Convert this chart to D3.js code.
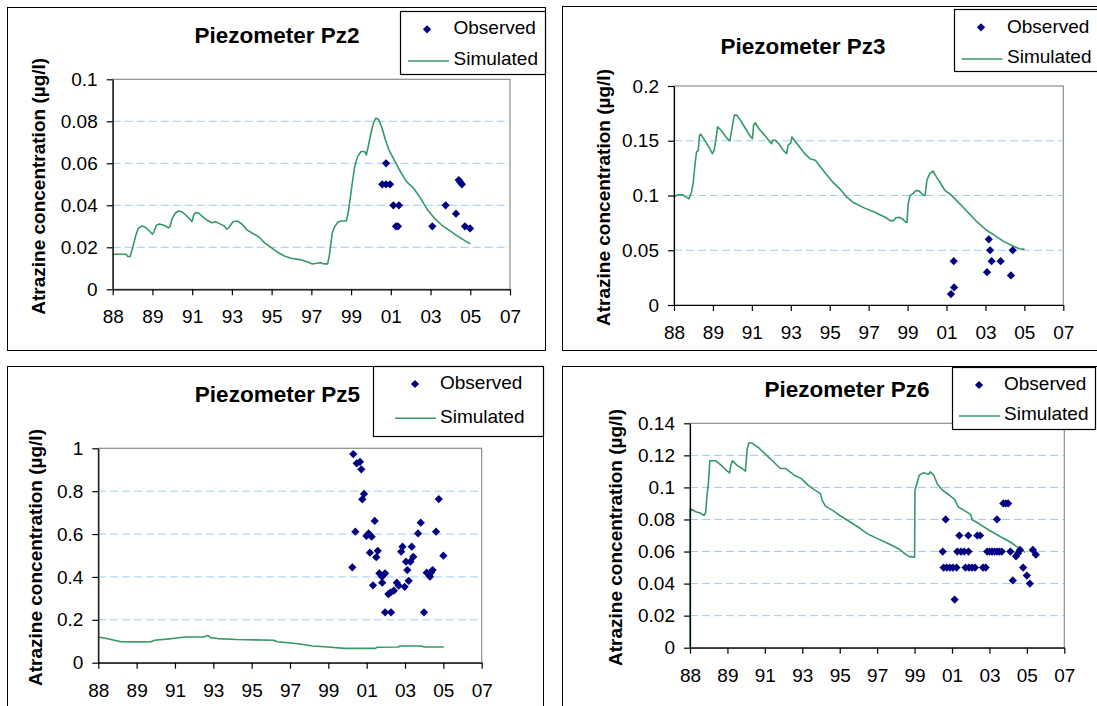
<!DOCTYPE html>
<html>
<head>
<meta charset="utf-8">
<script src="https://cdn.jsdelivr.net/npm/d3@7"></script>
<style>
  html, body { margin: 0; padding: 0; background: #fff; }
  svg { display: block; }
</style>
</head>
<body>
<svg id="chart" width="1097" height="706"></svg>
<script>
// ---- Time axis (decimal years; Excel-style 730-day major unit) ----
const xTickYears = [1988, 1990, 1992, 1994, 1996, 1998, 2000, 2002, 2004, 2006, 2008];
const xTickLabels = ["88", "89", "91", "93", "95", "97", "99", "01", "03", "05", "07"];

// ---- Piezometer Pz2 ----
const pz2YTicks = [0, 0.02, 0.04, 0.06, 0.08, 0.1];
const pz2YLabels = ["0", "0.02", "0.04", "0.06", "0.08", "0.1"];
const pz2Simulated = [
  [1988.0, 0.0167], [1988.67, 0.0167], [1988.76, 0.0156], [1988.88, 0.0156], [1989.02, 0.0203],
  [1989.17, 0.0259], [1989.29, 0.029], [1989.47, 0.0302], [1989.64, 0.0295], [1989.82, 0.028],
  [1990.0, 0.0262], [1990.08, 0.0275], [1990.2, 0.0305], [1990.35, 0.0311], [1990.52, 0.0306],
  [1990.65, 0.0302], [1990.79, 0.0292], [1990.88, 0.0298], [1991.0, 0.0338], [1991.14, 0.0362],
  [1991.32, 0.0373], [1991.5, 0.0368], [1991.67, 0.0354], [1991.85, 0.0338], [1991.99, 0.0322],
  [1992.08, 0.0354], [1992.17, 0.0365], [1992.34, 0.0362], [1992.52, 0.0346], [1992.73, 0.033],
  [1993.0, 0.0317], [1993.17, 0.0322], [1993.35, 0.0314], [1993.61, 0.0302], [1993.75, 0.0286],
  [1993.88, 0.0298], [1994.05, 0.0322], [1994.28, 0.0325], [1994.5, 0.0311], [1994.76, 0.0283],
  [1995.03, 0.0267], [1995.38, 0.0248], [1995.64, 0.0222], [1995.91, 0.0203], [1996.26, 0.0179],
  [1996.61, 0.016], [1996.97, 0.0148], [1997.5, 0.014], [1997.85, 0.0129], [1998.03, 0.0121],
  [1998.29, 0.0124], [1998.47, 0.0127], [1998.64, 0.0121], [1998.82, 0.0121], [1998.91, 0.0163],
  [1999.05, 0.0267], [1999.17, 0.0298], [1999.35, 0.0322], [1999.53, 0.0325], [1999.76, 0.0325],
  [1999.85, 0.0362], [1999.97, 0.0441], [2000.06, 0.0505], [2000.18, 0.0584], [2000.33, 0.0632],
  [2000.5, 0.0656], [2000.68, 0.0656], [2000.77, 0.064], [2000.86, 0.0679], [2001.0, 0.0743],
  [2001.12, 0.079], [2001.24, 0.0814], [2001.38, 0.081], [2001.56, 0.0767], [2001.73, 0.0711],
  [2001.91, 0.0663], [2002.17, 0.0616], [2002.44, 0.0568], [2002.79, 0.0513], [2003.15, 0.0481],
  [2003.5, 0.0433], [2003.85, 0.0378], [2004.2, 0.0338], [2004.56, 0.0306], [2004.91, 0.0283],
  [2005.27, 0.0259], [2005.62, 0.0238], [2006.0, 0.0216]
];
const pz2Observed = [
  [2001.76, 0.06], [2001.57, 0.05], [2001.76, 0.05], [2001.96, 0.05], [2002.13, 0.04],
  [2002.41, 0.04], [2002.26, 0.03], [2002.36, 0.03], [2004.09, 0.03], [2004.76, 0.04],
  [2005.28, 0.036], [2005.42, 0.052], [2005.5, 0.051], [2005.58, 0.05], [2005.73, 0.03],
  [2005.99, 0.029]
];

// ---- Piezometer Pz3 ----
const pz3YTicks = [0, 0.05, 0.1, 0.15, 0.2];
const pz3YLabels = ["0", "0.05", "0.1", "0.15", "0.2"];
const pz3Simulated = [
  [1988.0, 0.0985], [1988.18, 0.1006], [1988.45, 0.1006], [1988.63, 0.0985], [1988.77, 0.097],
  [1988.9, 0.103], [1988.99, 0.1122], [1989.08, 0.129], [1989.16, 0.1398], [1989.25, 0.1413],
  [1989.31, 0.155], [1989.38, 0.156], [1989.52, 0.152], [1989.79, 0.1443], [1989.97, 0.1382],
  [1990.06, 0.1413], [1990.15, 0.1505], [1990.24, 0.1627], [1990.42, 0.1596], [1990.69, 0.1529],
  [1990.87, 0.1498], [1990.99, 0.1627], [1991.1, 0.1734], [1991.23, 0.1734], [1991.41, 0.1688],
  [1991.67, 0.1612], [1991.94, 0.1535], [1992.03, 0.152], [1992.09, 0.1642], [1992.17, 0.1664],
  [1992.35, 0.1612], [1992.66, 0.155], [1992.93, 0.1489], [1993.02, 0.1474], [1993.07, 0.1505],
  [1993.2, 0.1505], [1993.38, 0.1474], [1993.61, 0.1413], [1993.79, 0.1382], [1993.86, 0.1459],
  [1994.0, 0.148], [1994.06, 0.1535], [1994.18, 0.1505], [1994.45, 0.1443], [1994.72, 0.1382],
  [1994.99, 0.1336], [1995.26, 0.1321], [1995.53, 0.126], [1995.8, 0.1199], [1996.16, 0.1122],
  [1996.52, 0.1061], [1996.88, 0.0985], [1997.24, 0.0933], [1997.77, 0.0887], [1998.31, 0.0847],
  [1998.85, 0.0801], [1999.11, 0.0771], [1999.29, 0.0771], [1999.38, 0.0795], [1999.56, 0.0801],
  [1999.74, 0.0786], [1999.92, 0.0755], [1999.97, 0.0755], [2000.03, 0.0924], [2000.13, 0.1],
  [2000.27, 0.1015], [2000.42, 0.1046], [2000.6, 0.104], [2000.78, 0.1006], [2000.9, 0.1],
  [2000.99, 0.1138], [2001.13, 0.1199], [2001.31, 0.1223], [2001.49, 0.1168], [2001.71, 0.1107],
  [2001.92, 0.1046], [2002.21, 0.1009], [2002.6, 0.0939], [2003.05, 0.0856], [2003.5, 0.0771],
  [2004.04, 0.0685], [2004.49, 0.0633], [2004.93, 0.0581], [2005.38, 0.0541], [2005.74, 0.0514],
  [2006.01, 0.0508]
];
const pz3Observed = [
  [2002.37, 0.04], [2002.39, 0.016], [2002.23, 0.01], [2004.17, 0.06], [2004.24, 0.05],
  [2004.08, 0.03], [2004.32, 0.04], [2004.78, 0.04], [2005.31, 0.027], [2005.4, 0.05]
];

// ---- Piezometer Pz5 ----
const pz5YTicks = [0, 0.2, 0.4, 0.6, 0.8, 1];
const pz5YLabels = ["0", "0.2", "0.4", "0.6", "0.8", "1"];
const pz5Simulated = [
  [1988.0, 0.12], [1988.37, 0.114], [1989.19, 0.098], [1990.01, 0.097], [1990.74, 0.098],
  [1990.93, 0.105], [1991.84, 0.1125], [1992.57, 0.12], [1993.49, 0.12], [1993.71, 0.127],
  [1993.86, 0.117], [1994.22, 0.1125], [1995.23, 0.108], [1997.15, 0.105], [1997.33, 0.098],
  [1998.06, 0.092], [1998.61, 0.086], [1999.16, 0.078], [1999.99, 0.073], [2000.81, 0.067],
  [2002.46, 0.067], [2002.55, 0.072], [2003.65, 0.073], [2003.74, 0.078], [2004.83, 0.078],
  [2005.02, 0.073], [2006.02, 0.073]
];
const pz5Observed = [
  [2001.30, 0.973], [2001.48, 0.93], [2001.65, 0.937], [2001.72, 0.902], [2001.86, 0.787],
  [2001.77, 0.762], [2002.42, 0.661], [2001.41, 0.611], [2002.10, 0.603], [2001.99, 0.591],
  [2002.26, 0.588], [2002.17, 0.513], [2002.58, 0.522], [2002.50, 0.492], [2001.25, 0.445],
  [2002.66, 0.417], [2002.96, 0.417], [2002.80, 0.401], [2002.33, 0.361], [2002.81, 0.373],
  [2003.13, 0.32], [2003.25, 0.328], [2003.42, 0.336], [2002.96, 0.235], [2003.27, 0.235],
  [2003.57, 0.373], [2003.67, 0.359], [2003.98, 0.354], [2004.19, 0.382], [2004.12, 0.432],
  [2004.05, 0.471], [2004.28, 0.471], [2004.43, 0.494], [2003.80, 0.518], [2003.87, 0.541],
  [2004.35, 0.541], [2004.68, 0.603], [2004.82, 0.653], [2004.99, 0.235], [2005.13, 0.42],
  [2005.27, 0.409], [2005.36, 0.422], [2005.44, 0.432], [2005.30, 0.401], [2005.62, 0.611],
  [2005.76, 0.763], [2006.00, 0.499]
];

// ---- Piezometer Pz6 ----
const pz6YTicks = [0, 0.02, 0.04, 0.06, 0.08, 0.1, 0.12, 0.14];
const pz6YLabels = ["0", "0.02", "0.04", "0.06", "0.08", "0.1", "0.12", "0.14"];
const pz6Simulated = [
  [1988.0, 0], [1988.0, 0.0867], [1988.17, 0.0857], [1988.35, 0.0846], [1988.54, 0.084],
  [1988.76, 0.0825], [1988.84, 0.0846], [1988.91, 0.0951], [1988.97, 0.1013], [1989.01, 0.1076],
  [1989.06, 0.1166], [1989.38, 0.1166], [1989.66, 0.1139], [1989.94, 0.1107], [1990.12, 0.1091],
  [1990.18, 0.1139], [1990.27, 0.1166], [1990.5, 0.1139], [1990.78, 0.1118], [1990.96, 0.1101],
  [1991.06, 0.1243], [1991.15, 0.1279], [1991.34, 0.1275], [1991.71, 0.1243], [1992.08, 0.1201],
  [1992.46, 0.116], [1992.83, 0.1118], [1993.11, 0.1118], [1993.29, 0.1101], [1993.57, 0.1076],
  [1993.95, 0.1055], [1994.32, 0.1013], [1994.69, 0.0982], [1994.97, 0.0961], [1995.06, 0.0919],
  [1995.25, 0.0882], [1995.62, 0.0857], [1996.0, 0.0825], [1996.56, 0.0784], [1997.12, 0.0742],
  [1997.49, 0.071], [1998.05, 0.0679], [1998.61, 0.0648], [1999.17, 0.0616], [1999.54, 0.0581],
  [1999.73, 0.0568], [2000.0, 0.0564], [2000.02, 0.0982], [2000.1, 0.1013], [2000.25, 0.1076],
  [2000.47, 0.1091], [2000.75, 0.1082], [2000.84, 0.1097], [2001.03, 0.1076], [2001.22, 0.102],
  [2001.5, 0.0982], [2001.87, 0.0951], [2002.15, 0.0924], [2002.33, 0.0878], [2002.71, 0.0852],
  [2002.99, 0.0832], [2003.08, 0.0798], [2003.45, 0.0773], [2004.01, 0.0731], [2004.57, 0.0694],
  [2005.13, 0.0658], [2005.5, 0.0627], [2005.91, 0.0595]
];
const pz6Observed = [
  [2001.66, 0.08], [2004.40, 0.08], [2004.74, 0.09], [2004.87, 0.09], [2005.0, 0.09],
  [2002.39, 0.07], [2002.87, 0.07], [2003.35, 0.07], [2003.5, 0.07],
  [2001.5, 0.06], [2002.28, 0.06], [2002.48, 0.06], [2002.65, 0.06], [2002.88, 0.06],
  [2003.88, 0.06], [2004.01, 0.06], [2004.14, 0.06], [2004.27, 0.06], [2004.40, 0.06],
  [2004.53, 0.06], [2004.66, 0.06], [2005.12, 0.06],
  [2005.42, 0.057], [2005.53, 0.059], [2005.63, 0.061], [2006.32, 0.061], [2006.48, 0.058],
  [2001.55, 0.05], [2001.72, 0.05], [2001.89, 0.05], [2002.05, 0.05], [2002.24, 0.05],
  [2002.72, 0.05], [2002.90, 0.05], [2003.07, 0.05], [2003.23, 0.05], [2003.66, 0.05],
  [2003.80, 0.05], [2005.8, 0.05], [2006.0, 0.045], [2006.16, 0.04], [2005.25, 0.042],
  [2002.14, 0.03]
];

// ---- Layout of the four panels ----
const panels = [
  {
    title: "Piezometer Pz2", titleX: 277, titleY: 42.7,
    frame: { x0: 7.5, y0: 7.5, x1: 545.5, y1: 350.5 },
    plot: { left: 112.7, right: 510, top: 79.3, bottom: 289.3 },
    yMax: 0.1, yTicks: pz2YTicks, yLabels: pz2YLabels, yTitleX: 45.2,
    simulated: pz2Simulated, observed: pz2Observed,
    legend: { x0: 400.5, y0: 11.5, x1: 545.5, y1: 74.5, dotX: 427, dotY: 29.3, textX: 453.5,
              obsY: 34, lineX0: 408, lineX1: 449, lineY: 61, simY: 65.3 }
  },
  {
    title: "Piezometer Pz3", titleX: 803, titleY: 54,
    frame: { x0: 562.5, y0: 6.5, x1: 1098, y1: 350.5 },
    plot: { left: 674, right: 1063.3, top: 86, bottom: 305 },
    yMax: 0.2, yTicks: pz3YTicks, yLabels: pz3YLabels, yTitleX: 610,
    simulated: pz3Simulated, observed: pz3Observed,
    legend: { x0: 954.5, y0: 9.5, x1: 1100, y1: 71.5, dotX: 981, dotY: 27.3, textX: 1007,
              obsY: 32.8, lineX0: 961.7, lineX1: 1002.5, lineY: 59, simY: 62.8 }
  },
  {
    title: "Piezometer Pz5", titleX: 277.4, titleY: 401.7,
    frame: { x0: 7.5, y0: 366.5, x1: 543.5, y1: 720 },
    plot: { left: 98.3, right: 481.7, top: 448.3, bottom: 662.7 },
    yMax: 1, yTicks: pz5YTicks, yLabels: pz5YLabels, yTitleX: 42.4,
    simulated: pz5Simulated, observed: pz5Observed,
    legend: { x0: 373.5, y0: 366.5, x1: 543.5, y1: 436.5, dotX: 415, dotY: 384, textX: 440,
              obsY: 388.5, lineX0: 395, lineX1: 436, lineY: 418.3, simY: 422.8 }
  },
  {
    title: "Piezometer Pz6", titleX: 847, titleY: 397.3,
    frame: { x0: 562.5, y0: 366.5, x1: 1098, y1: 720 },
    plot: { left: 690, right: 1064.3, top: 423.3, bottom: 647.7 },
    yMax: 0.14, yTicks: pz6YTicks, yLabels: pz6YLabels, yTitleX: 622.2,
    simulated: pz6Simulated, observed: pz6Observed,
    legend: { x0: 952.5, y0: 367.5, x1: 1095.5, y1: 429.5, dotX: 979, dotY: 385, textX: 1004,
              obsY: 389.5, lineX0: 959, lineX1: 1000, lineY: 416, simY: 419.5 }
  }
];

const FONT = '"Liberation Sans", Arial, Helvetica, sans-serif';
const SIM_COLOR = "#339966";
const OBS_COLOR = "#000080";
const GRID_COLOR = "#99ccff";
const diamond = d3.symbol(d3.symbolSquare).size(34);

const svg = d3.select("#chart");
svg.append("rect").attr("width", 1097).attr("height", 706).attr("fill", "#fff");

function drawPanel(p) {
  const g = svg.append("g");

  // chart area frame
  g.append("rect")
    .attr("x", p.frame.x0).attr("y", p.frame.y0)
    .attr("width", p.frame.x1 - p.frame.x0).attr("height", p.frame.y1 - p.frame.y0)
    .attr("fill", "#fff").attr("stroke", "#000").attr("stroke-width", 1);

  const x = d3.scaleLinear().domain([xTickYears[0], xTickYears[xTickYears.length - 1]])
    .range([p.plot.left, p.plot.right]);
  const y = d3.scaleLinear().domain([0, p.yMax]).range([p.plot.bottom, p.plot.top]);

  // plot area border (grey, top/right visible)
  g.append("rect")
    .attr("x", p.plot.left).attr("y", p.plot.top)
    .attr("width", p.plot.right - p.plot.left).attr("height", p.plot.bottom - p.plot.top)
    .attr("fill", "#fff").attr("stroke", "#8c8c8c").attr("stroke-width", 1.2);

  // dashed horizontal gridlines
  g.append("g").selectAll("line")
    .data(p.yTicks.filter(v => v > 0 && v < p.yMax))
    .join("line")
    .attr("x1", p.plot.left).attr("x2", p.plot.right)
    .attr("y1", d => y(d)).attr("y2", d => y(d))
    .attr("stroke", GRID_COLOR).attr("stroke-width", 1)
    .attr("stroke-dasharray", "8,4");

  // simulated concentration
  const line = d3.line().x(d => x(d[0])).y(d => y(d[1]));
  g.append("path")
    .datum(p.simulated)
    .attr("d", line)
    .attr("fill", "none").attr("stroke", SIM_COLOR)
    .attr("stroke-width", 1.6).attr("stroke-linejoin", "round");

  // observed concentrations
  g.append("g").selectAll("path")
    .data(p.observed)
    .join("path")
    .attr("d", diamond)
    .attr("transform", d => `translate(${x(d[0])},${y(d[1])}) rotate(45)`)
    .attr("fill", OBS_COLOR);

  // axes
  const xAxis = d3.axisBottom(x)
    .tickValues(xTickYears)
    .tickFormat((d, i) => xTickLabels[i])
    .tickSize(6).tickSizeOuter(0).tickPadding(14.5);
  const yAxis = d3.axisLeft(y)
    .tickValues(p.yTicks)
    .tickFormat((d, i) => p.yLabels[i])
    .tickSize(6).tickSizeOuter(0).tickPadding(9);

  const gx = g.append("g").attr("transform", `translate(0,${p.plot.bottom})`).call(xAxis);
  const gy = g.append("g").attr("transform", `translate(${p.plot.left},0)`).call(yAxis);
  [gx, gy].forEach(a => {
    a.attr("font-family", FONT).attr("font-size", 19);
    a.selectAll("path, line").attr("stroke", "#000").attr("stroke-width", 1.2);
    a.selectAll("text").attr("fill", "#000");
  });

  // titles
  g.append("text")
    .attr("x", p.titleX).attr("y", p.titleY)
    .attr("text-anchor", "middle")
    .attr("font-family", FONT).attr("font-size", 22.5).attr("font-weight", "bold")
    .text(p.title);

  g.append("text")
    .attr("transform", `translate(${p.yTitleX},${(p.plot.top + p.plot.bottom) / 2 + 2}) rotate(-90)`)
    .attr("text-anchor", "middle")
    .attr("font-family", FONT).attr("font-size", 19).attr("font-weight", "bold")
    .text("Atrazine concentration (µg/l)");

  // legend
  const L = p.legend;
  const lg = g.append("g");
  lg.append("rect")
    .attr("x", L.x0).attr("y", L.y0)
    .attr("width", L.x1 - L.x0).attr("height", L.y1 - L.y0)
    .attr("fill", "#fff").attr("stroke", "#000").attr("stroke-width", 1.2);
  lg.append("path")
    .attr("d", diamond)
    .attr("transform", `translate(${L.dotX},${L.dotY}) rotate(45)`)
    .attr("fill", OBS_COLOR);
  lg.append("text")
    .attr("x", L.textX).attr("y", L.obsY)
    .attr("font-family", FONT).attr("font-size", 19)
    .text("Observed");
  lg.append("line")
    .attr("x1", L.lineX0).attr("x2", L.lineX1)
    .attr("y1", L.lineY).attr("y2", L.lineY)
    .attr("stroke", SIM_COLOR).attr("stroke-width", 1.6);
  lg.append("text")
    .attr("x", L.textX).attr("y", L.simY)
    .attr("font-family", FONT).attr("font-size", 19)
    .text("Simulated");
}

panels.forEach(drawPanel);
</script>
</body>
</html>
